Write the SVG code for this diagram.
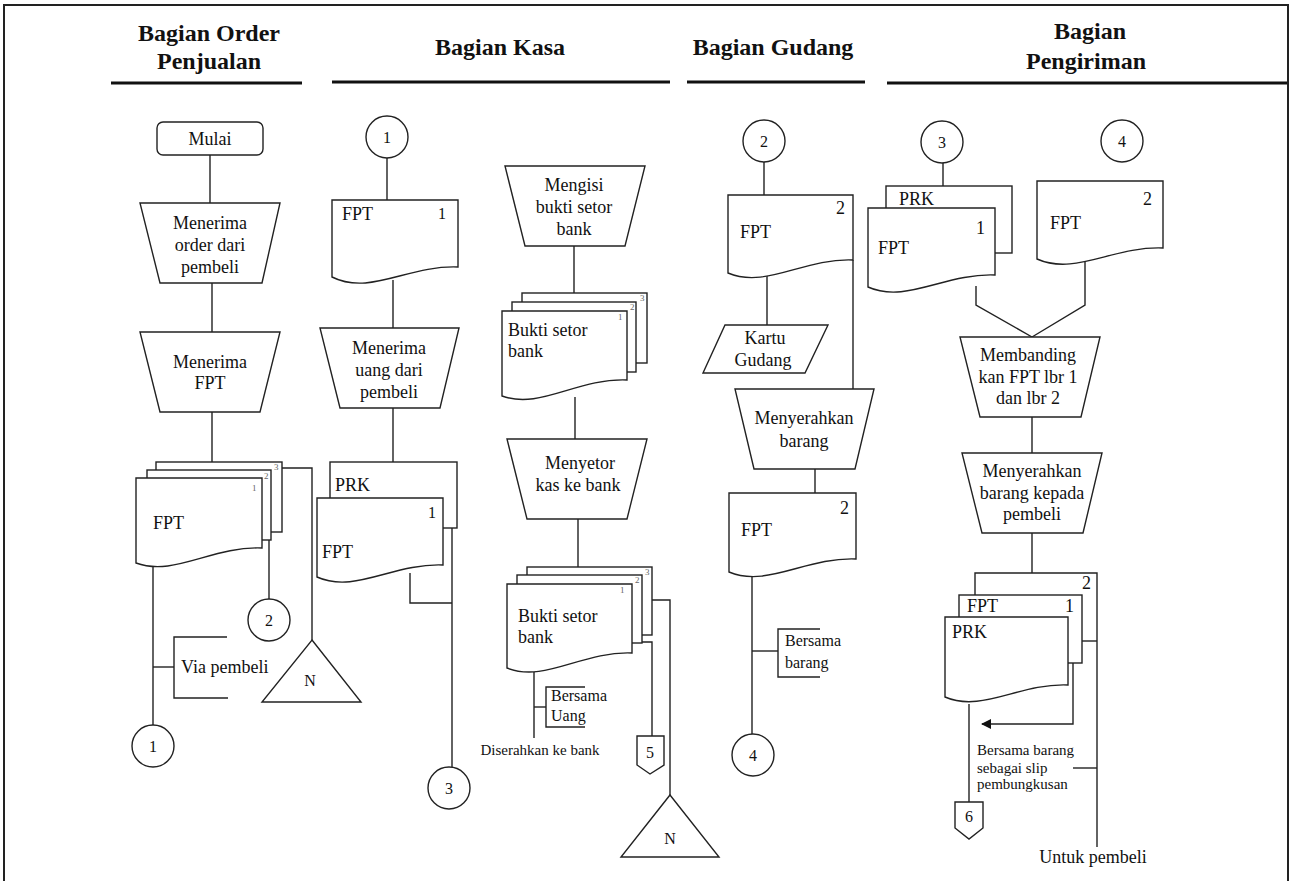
<svg xmlns="http://www.w3.org/2000/svg" width="1293" height="881" viewBox="0 0 1293 881">
<defs>
<style>
.s{fill:#fff;stroke:#222;stroke-width:1.4}
.l{fill:none;stroke:#222;stroke-width:1.4}
.h{fill:none;stroke:#111;stroke-width:2.8}
text{font-family:"Liberation Serif","Times New Roman",serif;fill:#111}
.t{font-size:18px}
.c{text-anchor:middle}
.hd{font-size:24px;font-weight:bold;text-anchor:middle}
.sm{font-size:16px}
.xs{font-size:15px}
.tn{font-size:9px;fill:#666}
</style>
<marker id="ar" markerWidth="10" markerHeight="10" refX="9" refY="5" orient="auto" markerUnits="userSpaceOnUse">
<path d="M0,0 L10,5 L0,10 Z" fill="#111"/>
</marker>
</defs>
<rect x="0" y="0" width="1293" height="881" fill="#fff"/>
<g id="frame">
<path class="l" d="M4,881 V5 H1288 V881" style="stroke-width:2"/>
</g>
<g id="headers">
<text class="hd" x="209" y="41">Bagian Order</text>
<text class="hd" x="209" y="69">Penjualan</text>
<line class="h" x1="111" y1="83" x2="302" y2="83"/>
<text class="hd" x="500" y="55">Bagian Kasa</text>
<line class="h" x1="332" y1="82" x2="670" y2="82"/>
<text class="hd" x="773" y="55">Bagian Gudang</text>
<line class="h" x1="687" y1="82" x2="865" y2="82"/>
<text class="hd" x="1090" y="39">Bagian</text>
<text class="hd" x="1086" y="69">Pengiriman</text>
<line class="h" x1="887" y1="83" x2="1287" y2="83"/>
</g>
<g id="connectors">
<line class="l" x1="210" y1="155" x2="210" y2="203"/>
<line class="l" x1="212" y1="283" x2="212" y2="332"/>
<line class="l" x1="212" y1="412" x2="212" y2="462"/>
<line class="l" x1="153" y1="566" x2="153" y2="725"/>
<line class="l" x1="269" y1="540" x2="269" y2="599"/>
<path class="l" d="M282,468 H312 V640"/>
<line class="l" x1="153" y1="667" x2="174" y2="667"/>
<path class="l" d="M227,637 H174 V698 H228"/>
<line class="l" x1="387" y1="158" x2="387" y2="200"/>
<line class="l" x1="393" y1="280" x2="393" y2="328"/>
<line class="l" x1="393" y1="408" x2="393" y2="462"/>
<path class="l" d="M410,573 V603 H452"/>
<line class="l" x1="452" y1="528" x2="452" y2="767"/>
<line class="l" x1="574" y1="246" x2="574" y2="293"/>
<line class="l" x1="575" y1="397" x2="575" y2="439"/>
<line class="l" x1="578" y1="519" x2="578" y2="567"/>
<line class="l" x1="534" y1="669" x2="534" y2="738"/>
<line class="l" x1="534" y1="707" x2="546" y2="707"/>
<path class="l" d="M585,687 H546 V727 H585"/>
<path class="l" d="M642,642 H652 V736"/>
<path class="l" d="M652,600 H670 V795"/>
<line class="l" x1="764" y1="162" x2="764" y2="195"/>
<line class="l" x1="767" y1="271" x2="767" y2="325"/>
<line class="l" x1="853" y1="260" x2="853" y2="389"/>
<line class="l" x1="815" y1="469" x2="815" y2="493"/>
<line class="l" x1="752" y1="573" x2="752" y2="734"/>
<line class="l" x1="752" y1="651" x2="778" y2="651"/>
<path class="l" d="M820,629 H778 V677 H820"/>
<line class="l" x1="943" y1="163" x2="943" y2="186"/>
<path class="l" d="M976,286 V305 L1032,337"/>
<path class="l" d="M1085,257 V305 L1032,337"/>
<line class="l" x1="1032" y1="417" x2="1032" y2="453"/>
<line class="l" x1="1032" y1="533" x2="1032" y2="573"/>
<line class="l" x1="1097" y1="595" x2="1097" y2="847"/>
<line class="l" x1="1082" y1="641" x2="1097" y2="641"/>
<path class="l" d="M1073,663 V724 H982" marker-end="url(#ar)"/>
<line class="l" x1="969" y1="704" x2="969" y2="802"/>
<line class="l" x1="1073" y1="768" x2="1097" y2="768"/>
</g>
<g id="mulai">
<rect class="s" x="157" y="122" width="106" height="33" rx="6"/>
<text class="t c" x="210" y="145">Mulai</text>
</g>
<g id="menerima-order">
<path class="s" d="M140,203 H280 L262,283 H160 Z"/>
<text class="t c" x="210" y="229">Menerima</text>
<text class="t c" x="210" y="251">order dari</text>
<text class="t c" x="210" y="273">pembeli</text>
</g>
<g id="menerima-fpt">
<path class="s" d="M140,332 H280 L260,412 H160 Z"/>
<text class="t c" x="210" y="368">Menerima</text>
<text class="t c" x="210" y="389">FPT</text>
</g>
<g id="fpt-3lembar">
<rect class="s" x="156" y="462" width="126" height="70"/>
<rect class="s" x="147" y="470" width="124" height="70"/>
<path class="s" d="M136,478 H262 V548 C212,546 174,577 136,563 Z"/>
<text class="tn" x="274" y="470">3</text>
<text class="tn" x="264" y="479">2</text>
<text class="tn" x="252" y="491">1</text>
<text class="t" x="153" y="529">FPT</text>
</g>
<g id="via-pembeli">
<text class="t" x="181" y="673">Via pembeli</text>
</g>
<g id="c1-out">
<circle class="s" cx="153" cy="746" r="21"/>
<text class="sm c" x="153" y="752">1</text>
</g>
<g id="c2-out">
<circle class="s" cx="269" cy="620" r="21"/>
<text class="sm c" x="269" y="626">2</text>
</g>
<g id="n1">
<path class="s" d="M312,640 L361,702 H262 Z"/>
<text class="sm c" x="310" y="686">N</text>
</g>
<g id="c1-in">
<circle class="s" cx="387" cy="137" r="21"/>
<text class="sm c" x="387" y="143">1</text>
</g>
<g id="fpt1-kasa">
<path class="s" d="M332,200 H458 V267 C408,265 370,296 332,277 Z"/>
<text class="t" x="342" y="220">FPT</text>
<text class="sm" x="438" y="219">1</text>
</g>
<g id="menerima-uang">
<path class="s" d="M320,328 H459 L440,408 H340 Z"/>
<text class="t c" x="389" y="354">Menerima</text>
<text class="t c" x="389" y="376">uang dari</text>
<text class="t c" x="389" y="398">pembeli</text>
</g>
<g id="prk-fpt-kasa">
<rect class="s" x="330" y="462" width="127" height="66"/>
<text class="t" x="335" y="491">PRK</text>
<path class="s" d="M317,498 H443 V565 C393,563 355,594 317,577 Z"/>
<text class="t" x="322" y="558">FPT</text>
<text class="sm" x="428" y="518">1</text>
</g>
<g id="c3-out">
<circle class="s" cx="449" cy="788" r="21"/>
<text class="sm c" x="449" y="794">3</text>
</g>
<g id="mengisi-bukti">
<path class="s" d="M505,166 H645 L625,246 H525 Z"/>
<text class="t c" x="574" y="191">Mengisi</text>
<text class="t c" x="574" y="213">bukti setor</text>
<text class="t c" x="574" y="235">bank</text>
</g>
<g id="bukti-setor-1">
<rect class="s" x="522" y="293" width="125" height="70"/>
<rect class="s" x="512" y="302" width="124" height="70"/>
<path class="s" d="M502,311 H627 V380 C577,378 540,410 502,396 Z"/>
<text class="tn" x="640" y="301">3</text>
<text class="tn" x="630" y="310">2</text>
<text class="tn" x="618" y="320">1</text>
<text class="t" x="508" y="336">Bukti setor</text>
<text class="t" x="508" y="357">bank</text>
</g>
<g id="menyetor-kas">
<path class="s" d="M507,439 H647 L627,519 H527 Z"/>
<text class="t c" x="580" y="469">Menyetor</text>
<text class="t c" x="578" y="491">kas ke bank</text>
</g>
<g id="bukti-setor-2">
<rect class="s" x="527" y="567" width="125" height="68"/>
<rect class="s" x="517" y="575" width="125" height="68"/>
<path class="s" d="M507,584 H632 V653 C582,651 545,683 507,668 Z"/>
<text class="tn" x="645" y="575">3</text>
<text class="tn" x="635" y="583">2</text>
<text class="tn" x="620" y="593">1</text>
<text class="t" x="518" y="622">Bukti setor</text>
<text class="t" x="518" y="643">bank</text>
</g>
<g id="bersama-uang">
<text class="sm" x="551" y="701">Bersama</text>
<text class="sm" x="551" y="721">Uang</text>
<text class="xs c" x="540" y="755">Diserahkan ke bank</text>
</g>
<g id="p5">
<path class="s" d="M637,736 H664 V765 L650,774 L637,765 Z"/>
<text class="sm c" x="650" y="758">5</text>
</g>
<g id="n2">
<path class="s" d="M670,795 L719,857 H621 Z"/>
<text class="sm c" x="670" y="844">N</text>
</g>
<g id="c2-in">
<circle class="s" cx="764" cy="141" r="21"/>
<text class="sm c" x="764" y="147">2</text>
</g>
<g id="fpt2-gudang">
<path class="s" d="M728,195 H853 V260 C803,258 766,289 728,273 Z"/>
<text class="t" x="740" y="238">FPT</text>
<text class="t" x="836" y="214">2</text>
</g>
<g id="kartu-gudang">
<path class="s" d="M725,325 H828 L805,373 H703 Z"/>
<text class="t c" x="765" y="344">Kartu</text>
<text class="t c" x="763" y="366">Gudang</text>
</g>
<g id="menyerahkan-barang">
<path class="s" d="M735,389 H874 L855,469 H754 Z"/>
<text class="t c" x="804" y="424">Menyerahkan</text>
<text class="t c" x="804" y="447">barang</text>
</g>
<g id="fpt2-gudang-b">
<path class="s" d="M729,493 H856 V559 C806,557 767,588 729,572 Z"/>
<text class="t" x="741" y="536">FPT</text>
<text class="t" x="840" y="514">2</text>
</g>
<g id="bersama-barang">
<text class="sm" x="785" y="646">Bersama</text>
<text class="sm" x="785" y="668">barang</text>
</g>
<g id="c4-out">
<circle class="s" cx="753" cy="755" r="21"/>
<text class="sm c" x="753" y="761">4</text>
</g>
<g id="c3-in">
<circle class="s" cx="942" cy="142" r="21"/>
<text class="sm c" x="942" y="148">3</text>
</g>
<g id="prk-fpt-kirim">
<rect class="s" x="886" y="186" width="126" height="67"/>
<text class="t" x="899" y="205">PRK</text>
<path class="s" d="M868,208 H995 V275 C945,273 906,304 868,287 Z"/>
<text class="t" x="878" y="254">FPT</text>
<text class="t" x="976" y="234">1</text>
</g>
<g id="c4-in">
<circle class="s" cx="1122" cy="141" r="21"/>
<text class="sm c" x="1122" y="147">4</text>
</g>
<g id="fpt2-kirim">
<path class="s" d="M1037,181 H1163 V248 C1113,246 1075,276 1037,259 Z"/>
<text class="t" x="1050" y="229">FPT</text>
<text class="t" x="1143" y="205">2</text>
</g>
<g id="membandingkan">
<path class="s" d="M960,337 H1100 L1081,417 H980 Z"/>
<text class="t c" x="1028" y="361">Membanding</text>
<text class="t c" x="1028" y="383">kan FPT lbr 1</text>
<text class="t c" x="1028" y="404">dan lbr 2</text>
</g>
<g id="menyerahkan-kepada">
<path class="s" d="M962,453 H1102 L1083,533 H982 Z"/>
<text class="t c" x="1032" y="477">Menyerahkan</text>
<text class="t c" x="1032" y="499">barang kepada</text>
<text class="t c" x="1032" y="520">pembeli</text>
</g>
<g id="doc-2-prk-fpt">
<path class="l" d="M975,595 V573 H1097 V595"/>
<text class="t" x="1082" y="589">2</text>
<rect class="s" x="959" y="595" width="123" height="68"/>
<text class="t" x="967" y="612">FPT</text>
<text class="t" x="1065" y="612">1</text>
<path class="s" d="M945,617 H1068 V685 C1019,683 982,713 945,697 Z"/>
<text class="t" x="952" y="638">PRK</text>
</g>
<g id="p6">
<path class="s" d="M955,802 H983 V828 L969,839 L955,828 Z"/>
<text class="sm c" x="969" y="822">6</text>
</g>
<g id="catatan-kirim">
<text class="xs" x="977" y="755">Bersama barang</text>
<text class="xs" x="977" y="773">sebagai slip</text>
<text class="xs" x="977" y="789">pembungkusan</text>
<text class="t c" x="1093" y="863">Untuk pembeli</text>
</g>
</svg>
